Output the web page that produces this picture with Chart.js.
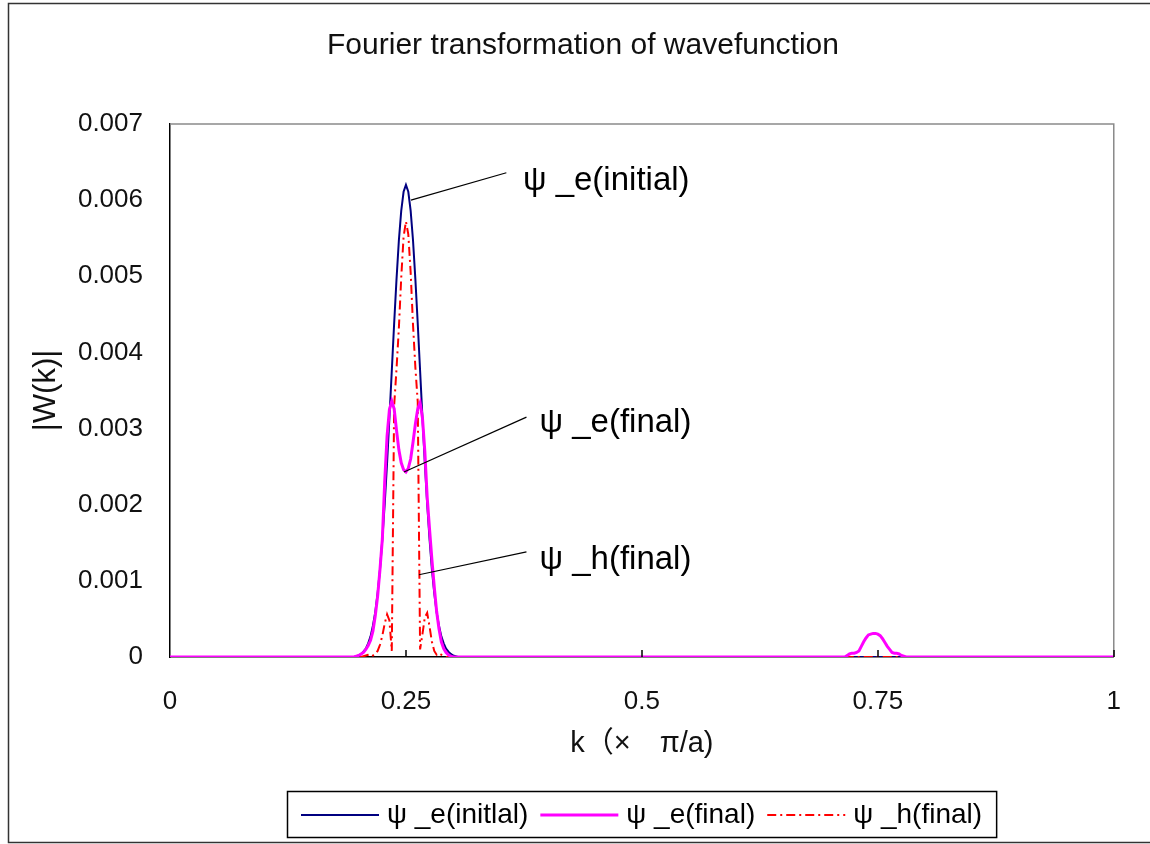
<!DOCTYPE html>
<html>
<head>
<meta charset="utf-8">
<script src="https://cdn.jsdelivr.net/npm/chart.js@4.4.0/dist/chart.umd.min.js"></script>
<style>
  body { margin: 0; background: #fff; }
</style>
</head>
<body>
<canvas id="myChart" width="1150" height="844"></canvas>
<script>
// k (x pi/a) sampled around the main peak
var kPeak = [0.19, 0.1925, 0.195, 0.1975, 0.2, 0.2025, 0.205, 0.2075, 0.21, 0.2125,
  0.215, 0.2175, 0.22, 0.2225, 0.225, 0.2275, 0.23, 0.2325, 0.235, 0.2375,
  0.24, 0.2425, 0.245, 0.2475, 0.25, 0.2525, 0.255, 0.2575, 0.26, 0.2625,
  0.265, 0.2675, 0.27, 0.2725, 0.275, 0.2775, 0.28, 0.2825, 0.285, 0.2875,
  0.29, 0.2925, 0.295, 0.2975, 0.3, 0.3025, 0.305, 0.3075, 0.31];

// |W(k)| for psi_e(initial)
var bluePeak = [0, 0, 0, 0.00001, 0.00002, 0.00004, 0.00007, 0.00011, 0.00018, 0.00027,
  0.00041, 0.00059, 0.00084, 0.00115, 0.00155, 0.00201, 0.00255, 0.00314, 0.00376, 0.00438,
  0.00496, 0.00547, 0.00586, 0.00611, 0.0062, 0.00611, 0.00586, 0.00547, 0.00496, 0.00438,
  0.00376, 0.00314, 0.00255, 0.00201, 0.00155, 0.00115, 0.00084, 0.00059, 0.00041, 0.00027,
  0.00018, 0.00011, 0.00007, 0.00004, 0.00002, 0.00001, 0, 0, 0];

// |W(k)| for psi_e(final)
var pinkPeak = [0, 0, 0, 0.00001, 0.00002, 0.00004, 0.00006, 0.0001, 0.00015, 0.00022,
  0.00034, 0.00054, 0.0008, 0.00115, 0.00155, 0.0023, 0.0029, 0.00325, 0.00336, 0.00326,
  0.00298, 0.00272, 0.00255, 0.00246, 0.00243, 0.00248, 0.0026, 0.00282, 0.00306, 0.00326,
  0.00334, 0.00314, 0.0027, 0.0021, 0.00168, 0.00128, 0.00092, 0.0006, 0.00037, 0.0002,
  0.00011, 0.00006, 0.00003, 0.00001, 0, 0, 0, 0, 0];

// |W(k)| for psi_h(final)
var redPeak = [0, 0, 0, 0, 0, 0, 0.00001, 0.00002, 0.00003, 0.00004,
  0.00002, 0.00004, 0.00008, 0.00016, 0.00028, 0.00044, 0.00056, 0.00048, 0.00008, 0.0033,
  0.00378, 0.00432, 0.00498, 0.00552, 0.00572, 0.00555, 0.00505, 0.00436, 0.0038, 0.00335,
  0.0001, 0.0003, 0.00052, 0.00058, 0.0004, 0.0002, 0.00008, 0.00003, 0.00005, 0.00003,
  0.00001, 0, 0, 0, 0, 0, 0, 0, 0];

// small bump of psi_e(final) near k = 0.75
var kSide = [0.715, 0.7175, 0.72, 0.7225, 0.725, 0.7275, 0.73, 0.7325, 0.735, 0.7375,
  0.74, 0.7425, 0.745, 0.7475, 0.75, 0.7525, 0.755, 0.7575, 0.76, 0.7625,
  0.765, 0.7675, 0.77, 0.7725, 0.775, 0.7775, 0.78];
var pinkSide = [0, 0.00002, 0.00004, 0.00005, 0.00005, 0.00006, 0.00008, 0.00014, 0.0002, 0.00025,
  0.00029, 0.0003, 0.00031, 0.00031, 0.0003, 0.00028, 0.00024, 0.00019, 0.00014, 0.0001,
  0.00006, 0.00005, 0.00005, 0.00004, 0.00002, 0.00001, 0];

// ends of the k range (all curves are zero there)
var kEdges = [0, 1];
var edgeValues = [0, 0];

var chartTitle = "Fourier transformation of wavefunction";
var seriesNames = ["ψ _e(initlal)", "ψ _e(final)", "ψ _h(final)"];
var xTicks = [0, 0.25, 0.5, 0.75, 1];
var yTicks = [0, 0.001, 0.002, 0.003, 0.004, 0.005, 0.006, 0.007];

// call-out labels: text, anchor on curve, end of leader line, text position (data units)
var noteLabels = ["ψ _e(initial)", "ψ _e(final)", "ψ _h(final)"];
var noteFrom = [[0.2553, 0.0060], [0.2479, 0.00243], [0.2638, 0.00108]];
var noteTo = [[0.3564, 0.00636], [0.3777, 0.00315], [0.3777, 0.00138]];
var noteText = [[0.374, 0.00625], [0.3915, 0.00308], [0.3915, 0.00128]];

var FONT = "'Liberation Sans', 'Noto Sans CJK JP', sans-serif";

function toPoints(ks, vals) {
  return ks.map(function (k, i) {
    return { x: k, y: vals[i] };
  });
}

var blueData = toPoints([kEdges[0]], [edgeValues[0]])
  .concat(toPoints(kPeak, bluePeak), toPoints([kEdges[1]], [edgeValues[1]]));
var pinkData = toPoints([kEdges[0]], [edgeValues[0]])
  .concat(toPoints(kPeak, pinkPeak), toPoints(kSide, pinkSide), toPoints([kEdges[1]], [edgeValues[1]]));
var redData = toPoints([kEdges[0]], [edgeValues[0]])
  .concat(toPoints(kPeak, redPeak), toPoints([kEdges[1]], [edgeValues[1]]));

// frame, title, callouts, inner tick marks and boxed legend
var decoPlugin = {
  id: "deco",
  beforeDraw: function (chart) {
    var ctx = chart.ctx;
    ctx.save();
    ctx.fillStyle = "#fff";
    ctx.fillRect(0, 0, chart.width, chart.height);
    ctx.restore();
  },
  beforeDatasetsDraw: function (chart) {
    var ctx = chart.ctx, area = chart.chartArea;
    ctx.save();
    ctx.strokeStyle = "#8a8a8a";
    ctx.lineWidth = 1.5;
    ctx.beginPath();
    ctx.moveTo(area.left, area.top);
    ctx.lineTo(area.right, area.top);
    ctx.lineTo(area.right, area.bottom);
    ctx.stroke();
    ctx.restore();
  },
  afterDraw: function (chart) {
    var ctx = chart.ctx, xs = chart.scales.x, ys = chart.scales.y, area = chart.chartArea;
    ctx.save();

    // outer chart frame (runs past the right edge of the picture)
    var frameL = 8, frameT = 3, frameW = chart.width, frameH = chart.height - 5;
    ctx.strokeStyle = "#333";
    ctx.lineWidth = 1.5;
    ctx.strokeRect(frameL + 0.5, frameT + 0.5, frameW, frameH);

    // title, centred on the frame
    ctx.fillStyle = "#111";
    ctx.font = "30px " + FONT;
    ctx.textAlign = "center";
    ctx.textBaseline = "middle";
    ctx.fillText(chartTitle, frameL + frameW / 2, 46);

    // small tick marks pointing into the plot
    ctx.strokeStyle = "#000";
    ctx.lineWidth = 1.5;
    xTicks.forEach(function (v) {
      if (v === 0) return;
      var px = Math.round(xs.getPixelForValue(v));
      ctx.beginPath();
      ctx.moveTo(px, area.bottom);
      ctx.lineTo(px, area.bottom - 7);
      ctx.stroke();
    });

    // callouts
    ctx.lineWidth = 1.2;
    ctx.fillStyle = "#000";
    ctx.font = "33px " + FONT;
    ctx.textAlign = "left";
    noteLabels.forEach(function (t, i) {
      ctx.beginPath();
      ctx.moveTo(xs.getPixelForValue(noteFrom[i][0]), ys.getPixelForValue(noteFrom[i][1]));
      ctx.lineTo(xs.getPixelForValue(noteTo[i][0]), ys.getPixelForValue(noteTo[i][1]));
      ctx.stroke();
      ctx.fillText(t, xs.getPixelForValue(noteText[i][0]), ys.getPixelForValue(noteText[i][1]));
    });

    // legend box below the axis title
    var ds = chart.data.datasets;
    ctx.font = "28px " + FONT;
    var lineLen = 78, gapA = 8, gapB = 12, padX = 14;
    var total = padX * 2 - gapB;
    var widths = seriesNames.map(function (n) {
      var w = ctx.measureText(n).width;
      total += lineLen + gapA + w + gapB;
      return w;
    });
    var boxH = 46;
    var boxX = Math.round((area.left + area.right) / 2 - total / 2);
    var boxY = chart.height - 53;
    ctx.lineWidth = 1.5;
    ctx.strokeStyle = "#000";
    ctx.setLineDash([]);
    ctx.strokeRect(boxX + 0.5, boxY + 0.5, total, boxH);
    var cx = boxX + padX, cy = boxY + boxH / 2 + 1;
    seriesNames.forEach(function (n, i) {
      var d = ds[i];
      ctx.strokeStyle = d.borderColor;
      ctx.lineWidth = d.borderWidth;
      ctx.setLineDash(d.borderDash || []);
      ctx.beginPath();
      ctx.moveTo(cx, cy);
      ctx.lineTo(cx + lineLen, cy);
      ctx.stroke();
      ctx.setLineDash([]);
      ctx.fillStyle = "#000";
      ctx.fillText(n, cx + lineLen + gapA, cy);
      cx += lineLen + gapA + widths[i] + gapB;
    });
    ctx.restore();
  }
};

var ctx = document.getElementById("myChart").getContext("2d");
var chart = new Chart(ctx, {
  type: "line",
  data: {
    datasets: [
      {
        label: seriesNames[0],
        data: blueData,
        borderColor: "#000080",
        borderWidth: 2,
        pointRadius: 0,
        fill: false,
        order: 2,
      },
      {
        label: seriesNames[1],
        data: pinkData,
        borderColor: "#ff00ff",
        borderWidth: 3,
        pointRadius: 0,
        fill: false,
        order: 0,
      },
      {
        label: seriesNames[2],
        data: redData,
        borderColor: "#ff0000",
        borderWidth: 2,
        borderDash: [9, 4, 2, 4],
        pointRadius: 0,
        fill: false,
        order: 1,
      },
    ],
  },
  options: {
    responsive: false,
    animation: false,
    devicePixelRatio: 1,
    layout: {
      padding: { top: 124, left: 0, right: 36, bottom: 77 },
    },
    plugins: {
      legend: { display: false },
      tooltip: { enabled: false },
      title: { display: false },
    },
    scales: {
      x: {
        type: "linear",
        position: "bottom",
        min: 0,
        max: 1,
        afterBuildTicks: function (s) {
          s.ticks = xTicks.map(function (v) { return { value: v }; });
        },
        afterFit: function (s) {
          s.height = 110;
        },
        grid: { display: false, drawTicks: false },
        border: { display: true, color: "#000", width: 1.5 },
        ticks: {
          color: "#111",
          padding: 29,
          maxRotation: 0,
          font: { family: FONT, size: 26 },
          callback: function (v) { return String(v); },
        },
        title: {
          display: true,
          text: "k（×　π/a)",
          color: "#111",
          font: { family: FONT, size: 29 },
          padding: { top: 0, bottom: 6 },
        },
      },
      y: {
        type: "linear",
        position: "left",
        min: 0,
        max: 0.007,
        afterBuildTicks: function (s) {
          s.ticks = yTicks.map(function (v) { return { value: v }; });
        },
        afterFit: function (s) {
          s.width = 170;
        },
        grid: { display: false, drawTicks: false },
        border: { display: true, color: "#000", width: 1.5 },
        ticks: {
          color: "#111",
          padding: 27,
          font: { family: FONT, size: 26 },
          callback: function (v) { return String(v); },
        },
        title: {
          display: true,
          text: "|W(k)|",
          color: "#111",
          font: { family: FONT, size: 31 },
          padding: { top: 28, bottom: 0 },
        },
      },
    },
  },
  plugins: [decoPlugin],
});
</script>
</body>
</html>
